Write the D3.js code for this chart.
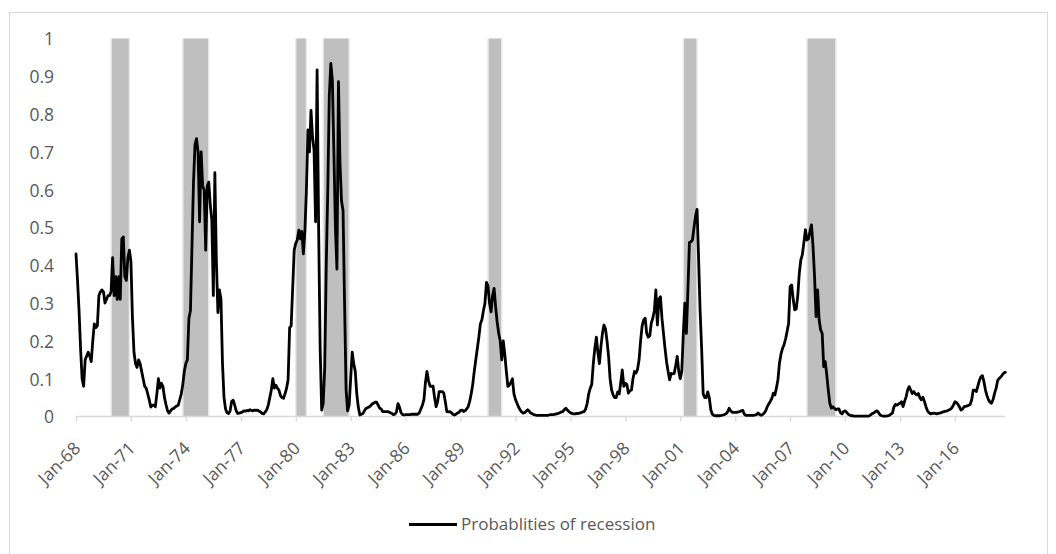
<!DOCTYPE html>
<html>
<head>
<meta charset="utf-8">
<script src="https://cdn.jsdelivr.net/npm/d3@7/dist/d3.min.js"></script>
<style>
  html, body { margin: 0; padding: 0; background: #fff; }
  svg { display: block; }
  text { font-family: "Open Sans", "Noto Sans", sans-serif; fill: #595959; }
</style>
</head>
<body>
<svg id="chart" width="1056" height="554"></svg>
<script>
// ---------------- DATA ----------------
const startYear = 1968;          // first month = Jan-1968, monthly series
const seriesName = "Probablities of recession";

// monthly probabilities, one row per year (Jan..Dec)
const probabilities = [
  /*1968*/ 0.43, 0.36, 0.28, 0.18, 0.10, 0.08, 0.15, 0.16, 0.17, 0.16, 0.145, 0.20,
  /*1969*/ 0.245, 0.235, 0.24, 0.32, 0.33, 0.335, 0.33, 0.30, 0.31, 0.32, 0.32, 0.33,
  /*1970*/ 0.42, 0.32, 0.37, 0.31, 0.37, 0.31, 0.47, 0.475, 0.37, 0.36, 0.42, 0.44,
  /*1971*/ 0.41, 0.26, 0.17, 0.14, 0.13, 0.15, 0.14, 0.12, 0.10, 0.08, 0.075, 0.06,
  /*1972*/ 0.044, 0.025, 0.03, 0.03, 0.026, 0.06, 0.10, 0.075, 0.088, 0.079, 0.05, 0.031,
  /*1973*/ 0.015, 0.009, 0.015, 0.02, 0.021, 0.025, 0.028, 0.03, 0.045, 0.06, 0.085, 0.12,
  /*1974*/ 0.14, 0.15, 0.26, 0.28, 0.45, 0.62, 0.72, 0.735, 0.70, 0.515, 0.70, 0.61,
  /*1975*/ 0.60, 0.44, 0.61, 0.62, 0.56, 0.52, 0.32, 0.645, 0.41, 0.275, 0.335, 0.31,
  /*1976*/ 0.14, 0.05, 0.02, 0.01, 0.008, 0.015, 0.04, 0.043, 0.03, 0.015, 0.008, 0.009,
  /*1977*/ 0.010, 0.012, 0.015, 0.014, 0.016, 0.015, 0.018, 0.016, 0.015, 0.017, 0.016, 0.017,
  /*1978*/ 0.014, 0.012, 0.008, 0.007, 0.012, 0.018, 0.030, 0.05, 0.07, 0.10, 0.075, 0.083,
  /*1979*/ 0.075, 0.07, 0.055, 0.050, 0.048, 0.06, 0.075, 0.097, 0.235, 0.24, 0.34, 0.44,
  /*1980*/ 0.458, 0.467, 0.493, 0.47, 0.49, 0.43, 0.49, 0.60, 0.758, 0.70, 0.81, 0.74,
  /*1981*/ 0.705, 0.515, 0.917, 0.50, 0.18, 0.017, 0.035, 0.13, 0.40, 0.60, 0.85, 0.934,
  /*1982*/ 0.89, 0.70, 0.50, 0.39, 0.886, 0.67, 0.57, 0.545, 0.30, 0.07, 0.015, 0.03,
  /*1983*/ 0.10, 0.17, 0.14, 0.12, 0.06, 0.025, 0.004, 0.006, 0.008, 0.015, 0.021, 0.023,
  /*1984*/ 0.025, 0.028, 0.033, 0.035, 0.038, 0.038, 0.03, 0.022, 0.02, 0.013, 0.013, 0.013,
  /*1985*/ 0.013, 0.012, 0.01, 0.008, 0.005, 0.006, 0.012, 0.034, 0.025, 0.01, 0.005, 0.004,
  /*1986*/ 0.005, 0.005, 0.005, 0.005, 0.006, 0.006, 0.006, 0.006, 0.006, 0.01, 0.02, 0.03,
  /*1987*/ 0.044, 0.09, 0.119, 0.095, 0.08, 0.08, 0.08, 0.05, 0.026, 0.04, 0.066, 0.066,
  /*1988*/ 0.066, 0.062, 0.04, 0.013, 0.012, 0.013, 0.01, 0.006, 0.004, 0.006, 0.009, 0.011,
  /*1989*/ 0.016, 0.017, 0.013, 0.015, 0.02, 0.026, 0.04, 0.06, 0.085, 0.12, 0.15, 0.18,
  /*1990*/ 0.21, 0.245, 0.256, 0.28, 0.30, 0.355, 0.345, 0.30, 0.277, 0.32, 0.339, 0.29,
  /*1991*/ 0.25, 0.22, 0.20, 0.15, 0.20, 0.165, 0.12, 0.08, 0.083, 0.09, 0.10, 0.06,
  /*1992*/ 0.045, 0.035, 0.025, 0.018, 0.012, 0.009, 0.01, 0.014, 0.018, 0.014, 0.009, 0.007,
  /*1993*/ 0.005, 0.004, 0.003, 0.003, 0.003, 0.003, 0.003, 0.003, 0.003, 0.003, 0.004, 0.005,
  /*1994*/ 0.005, 0.005, 0.006, 0.007, 0.008, 0.01, 0.012, 0.013, 0.018, 0.022, 0.017, 0.013,
  /*1995*/ 0.01, 0.008, 0.007, 0.007, 0.008, 0.008, 0.009, 0.01, 0.012, 0.013, 0.02, 0.035,
  /*1996*/ 0.06, 0.075, 0.085, 0.14, 0.18, 0.21, 0.17, 0.14, 0.185, 0.22, 0.242, 0.232,
  /*1997*/ 0.20, 0.16, 0.10, 0.07, 0.057, 0.05, 0.05, 0.065, 0.06, 0.09, 0.123, 0.08,
  /*1998*/ 0.088, 0.085, 0.062, 0.068, 0.07, 0.10, 0.119, 0.115, 0.125, 0.15, 0.20, 0.24,
  /*1999*/ 0.255, 0.26, 0.22, 0.21, 0.213, 0.247, 0.26, 0.28, 0.335, 0.242, 0.31, 0.317,
  /*2000*/ 0.26, 0.22, 0.18, 0.145, 0.12, 0.097, 0.114, 0.113, 0.114, 0.135, 0.159, 0.12,
  /*2001*/ 0.10, 0.12, 0.22, 0.30, 0.22, 0.335, 0.46, 0.462, 0.467, 0.50, 0.53, 0.548,
  /*2002*/ 0.42, 0.28, 0.18, 0.06, 0.05, 0.05, 0.065, 0.05, 0.018, 0.006, 0.003, 0.002,
  /*2003*/ 0.002, 0.002, 0.002, 0.003, 0.004, 0.005, 0.007, 0.012, 0.022, 0.015, 0.011, 0.011,
  /*2004*/ 0.011, 0.011, 0.012, 0.013, 0.015, 0.016, 0.006, 0.003, 0.003, 0.003, 0.003, 0.003,
  /*2005*/ 0.003, 0.004, 0.005, 0.009, 0.005, 0.003, 0.005, 0.009, 0.015, 0.026, 0.033, 0.04,
  /*2006*/ 0.048, 0.062, 0.057, 0.075, 0.097, 0.141, 0.165, 0.18, 0.19, 0.205, 0.225, 0.247,
  /*2007*/ 0.344, 0.348, 0.31, 0.282, 0.285, 0.32, 0.379, 0.414, 0.428, 0.46, 0.494, 0.467,
  /*2008*/ 0.47, 0.489, 0.507, 0.45, 0.37, 0.264, 0.335, 0.256, 0.229, 0.22, 0.132, 0.145,
  /*2009*/ 0.11, 0.07, 0.035, 0.022, 0.026, 0.022, 0.018, 0.02, 0.02, 0.01, 0.007, 0.013,
  /*2010*/ 0.015, 0.011, 0.006, 0.004, 0.002, 0.002, 0.001, 0.001, 0.001, 0.001, 0.001, 0.001,
  /*2011*/ 0.001, 0.001, 0.001, 0.001, 0.002, 0.005, 0.008, 0.01, 0.013, 0.015, 0.01, 0.004,
  /*2012*/ 0.002, 0.001, 0.001, 0.001, 0.002, 0.003, 0.006, 0.009, 0.025, 0.032, 0.03, 0.033,
  /*2013*/ 0.035, 0.039, 0.026, 0.04, 0.052, 0.07, 0.079, 0.07, 0.061, 0.066, 0.06, 0.057,
  /*2014*/ 0.061, 0.05, 0.044, 0.051, 0.04, 0.026, 0.015, 0.01, 0.007, 0.008, 0.009, 0.008,
  /*2015*/ 0.007, 0.008, 0.009, 0.01, 0.012, 0.013, 0.014, 0.015, 0.017, 0.019, 0.023, 0.03,
  /*2016*/ 0.039, 0.037, 0.032, 0.025, 0.017, 0.02, 0.026, 0.027, 0.028, 0.03, 0.032, 0.045,
  /*2017*/ 0.07, 0.07, 0.066, 0.08, 0.095, 0.105, 0.108, 0.092, 0.07, 0.055, 0.044, 0.038,
  /*2018*/ 0.035, 0.045, 0.062, 0.075, 0.095, 0.101, 0.104, 0.11, 0.115, 0.117
];

// NBER recession months (shaded columns)
const recessionStart = ["1970-01", "1973-12", "1980-02", "1981-08", "1990-08", "2001-04", "2008-01"];
const recessionEnd   = ["1970-11", "1975-03", "1980-07", "1982-11", "1991-03", "2001-11", "2009-06"];

const yTicks = [0, 0.1, 0.2, 0.3, 0.4, 0.5, 0.6, 0.7, 0.8, 0.9, 1];
const xTickLabels = ["Jan-68","Jan-71","Jan-74","Jan-77","Jan-80","Jan-83","Jan-86","Jan-89",
                     "Jan-92","Jan-95","Jan-98","Jan-01","Jan-04","Jan-07","Jan-10","Jan-13","Jan-16"];

// ---------------- CHART ----------------
const svg = d3.select("#chart");

const monthIndex = s => { const [yr, m] = s.split("-").map(Number); return (yr - startYear) * 12 + (m - 1); };
const labelIndex = lab => { const yy = +lab.slice(4); const yr = yy >= 60 ? 1900 + yy : 2000 + yy; return (yr - startYear) * 12; };

const x = d3.scaleLinear().domain([0, probabilities.length - 1]).range([76, 1005.3]);
const y = d3.scaleLinear().domain([0, 1]).range([416.5, 38.5]);

// chart border
svg.append("rect").attr("x", 9.5).attr("y", 12.5).attr("width", 1038).attr("height", 545)
  .attr("fill", "#fff").attr("stroke", "#d9d9d9").attr("stroke-width", 1);

// recession columns
const rec = recessionStart.map((s, k) => ({ s: monthIndex(s), e: monthIndex(recessionEnd[k]) }));
const gRec = svg.append("g");
gRec.selectAll("rect.glow").data(rec).join("rect").attr("class", "glow")
  .attr("x", d => x(d.s - 0.5) - 1.5).attr("width", d => x(d.e + 0.5) - x(d.s - 0.5) + 3)
  .attr("y", y(1)).attr("height", y(0) - y(1))
  .attr("fill", "#e9e9e9");
gRec.selectAll("rect.bar").data(rec).join("rect").attr("class", "bar")
  .attr("x", d => x(d.s - 0.5)).attr("width", d => x(d.e + 0.5) - x(d.s - 0.5))
  .attr("y", y(1)).attr("height", y(0) - y(1))
  .attr("fill", "#bfbfbf");

// y axis labels
const yAxis = d3.axisLeft(y).tickValues(yTicks).tickSize(0).tickPadding(0).tickFormat(d3.format("~g"));
const gy = svg.append("g").attr("transform", "translate(54,0)").call(yAxis);
gy.select(".domain").remove();
gy.selectAll("text").attr("font-size", 17.5).attr("fill", "#595959")
  .attr("font-family", '"Open Sans", sans-serif').attr("dy", "0.36em");

// x axis
const xTickVals = xTickLabels.map(labelIndex);
const xAxis = d3.axisBottom(x).tickValues(xTickVals).tickSize(5)
  .tickFormat((d, k) => xTickLabels[k]);
const gx = svg.append("g").attr("transform", `translate(0,${y(0)})`).call(xAxis);
gx.select(".domain").attr("stroke", "#d9d9d9").attr("stroke-width", 1.3)
  .attr("d", `M${x(0)},0H${x(probabilities.length - 1)}`);
gx.selectAll(".tick line").attr("stroke", "#d9d9d9").attr("stroke-width", 1.3);
gx.selectAll(".tick text")
  .attr("font-size", 17.5).attr("fill", "#595959").attr("font-family", '"Open Sans", sans-serif')
  .attr("text-anchor", "end").attr("dy", null).attr("y", null)
  .attr("transform", "translate(5,33) rotate(-45)");

// line
const line = d3.line().x((d, i) => x(i)).y(d => y(d)).curve(d3.curveLinear);
svg.append("path").datum(probabilities).attr("d", line)
  .attr("fill", "none").attr("stroke", "#000").attr("stroke-width", 2.8)
  .attr("stroke-linejoin", "round").attr("stroke-linecap", "round");

// legend
const lg = svg.append("g").attr("transform", "translate(409,524.5)");
lg.append("line").attr("x1", 0).attr("x2", 48).attr("y1", 0).attr("y2", 0)
  .attr("stroke", "#000").attr("stroke-width", 2.8);
lg.append("text").attr("x", 52).attr("y", 0).attr("dy", "0.35em")
  .attr("font-size", 17).attr("fill", "#595959").text(seriesName);
</script>
</body>
</html>
